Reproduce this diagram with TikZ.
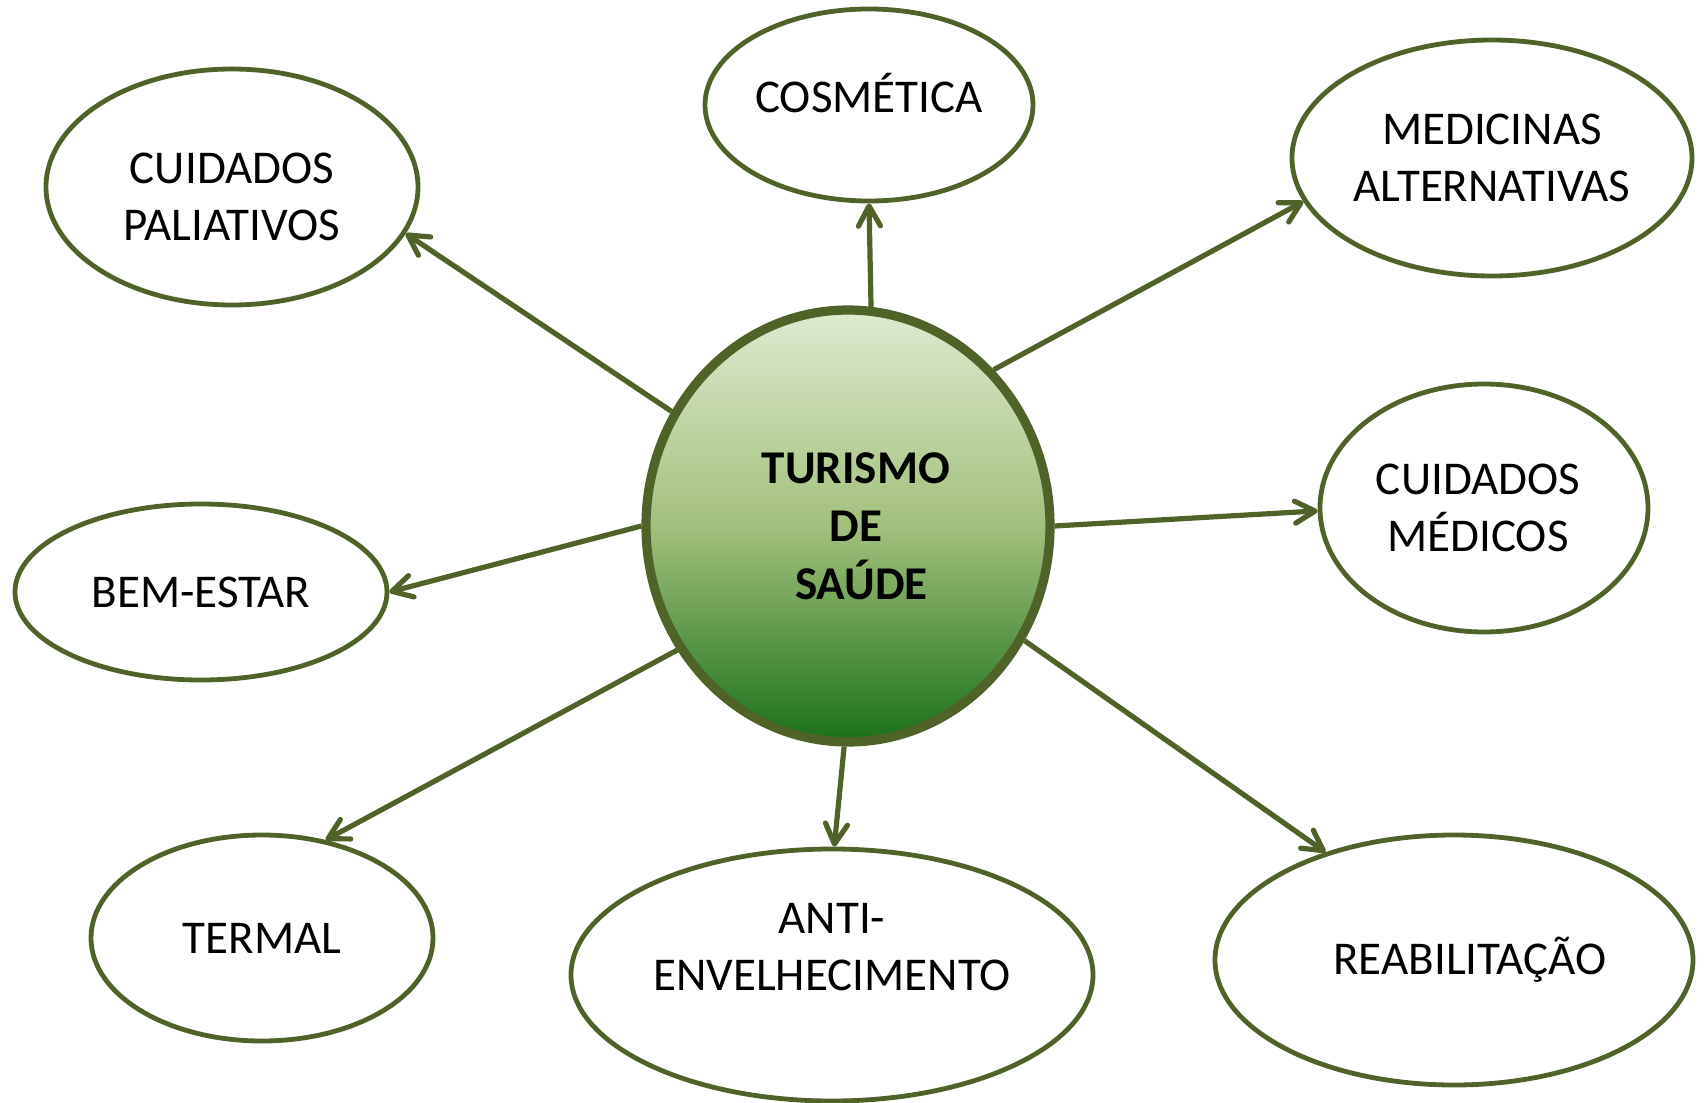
\documentclass[tikz,border=0pt]{standalone}
\usepackage{fontspec}
\setmainfont{Carlito}
\usetikzlibrary{arrows.meta,shapes.geometric}
\definecolor{oliveLine}{HTML}{4F6228}
\definecolor{hubTop}{HTML}{DEEBD0}
\definecolor{hubMid}{HTML}{A3C07D}
\definecolor{hubBottom}{HTML}{1A7119}
\tikzset{
 bubble/.style={ellipse, draw=oliveLine, line width=2.4pt, inner sep=0pt, align=center,
  font=\fontsize{23.5pt}{28.5pt}\selectfont},
 inlbl/.style={align=center, inner sep=0pt, font=\fontsize{23.5pt}{28.5pt}\selectfont},
 hub/.style={ellipse, draw=oliveLine, line width=4.6pt, inner sep=0pt, align=center,
  top color=hubTop, bottom color=hubBottom, middle color=hubMid},
 hublbl/.style={align=center, inner sep=0pt, font=\bfseries\fontsize{23.5pt}{29pt}\selectfont},
 link/.style={draw=oliveLine, line width=2.6pt, -{Straight Barb[length=10pt,width=11pt,round]}}
}
\begin{document}
\begin{tikzpicture}[x=0.5pt,y=-0.5pt]
 \useasboundingbox (0,0) rectangle (1704,1103);
 % Centre
 \node[hub, minimum width=202pt, minimum height=216pt,
  label={[hublbl, name=turismotxt, xshift=4pt]center:TURISMO\\DE\\\ SAÚDE}] (turismo) at (848,526) {};
 % Top row
 \node[bubble, minimum width=186pt, minimum height=118pt,
  label={[inlbl, name=paliativostxt, yshift=-5pt]center:CUIDADOS\\PALIATIVOS}] (paliativos) at (232,187) {};
 \node[bubble, minimum width=164pt, minimum height=96pt,
  label={[inlbl, name=cosmeticatxt, yshift=6pt]center:COSMÉTICA}] (cosmetica) at (869,105) {};
 \node[bubble, minimum width=200pt, minimum height=118pt] (alternativas) at (1492,158) {MEDICINAS\\ALTERNATIVAS};
 % Middle row
 \node[bubble, minimum width=186pt, minimum height=88pt] (bemestar) at (201,592) {BEM-ESTAR};
 \node[bubble, minimum width=164pt, minimum height=124pt,
  label={[inlbl, name=medicostxt, xshift=-3pt]center:CUIDADOS\\MÉDICOS}] (medicos) at (1484,508) {};
 % Bottom row
 \node[bubble, minimum width=171pt, minimum height=103pt] (termal) at (262,938) {TERMAL};
 \node[bubble, minimum width=261pt, minimum height=126pt,
  label={[inlbl, name=antitxt, yshift=14pt]center:ANTI-\\ENVELHECIMENTO}] (anti) at (832,975) {};
 \node[bubble, minimum width=239pt, minimum height=125pt,
  label={[inlbl, name=reabtxt, xshift=8pt]center:REABILITAÇÃO}] (reab) at (1454,960) {};
 % Arrows
 \draw[link] (turismo.147) -- (paliativos.-15);
 \draw[link] (turismo.84.5) -- (cosmetica.270);
 \draw[link] (turismo.47) -- (alternativas.193);
 \draw[link] (turismo.0.3) -- (medicos.181);
 \draw[link] (turismo.180) -- (bemestar.0);
 \draw[link] (turismo.216) -- (termal.57);
 \draw[link] (turismo.269.4) -- (anti.89.3);
 \draw[link] (turismo.-33.6) -- (reab.140);
\end{tikzpicture}
\end{document}
